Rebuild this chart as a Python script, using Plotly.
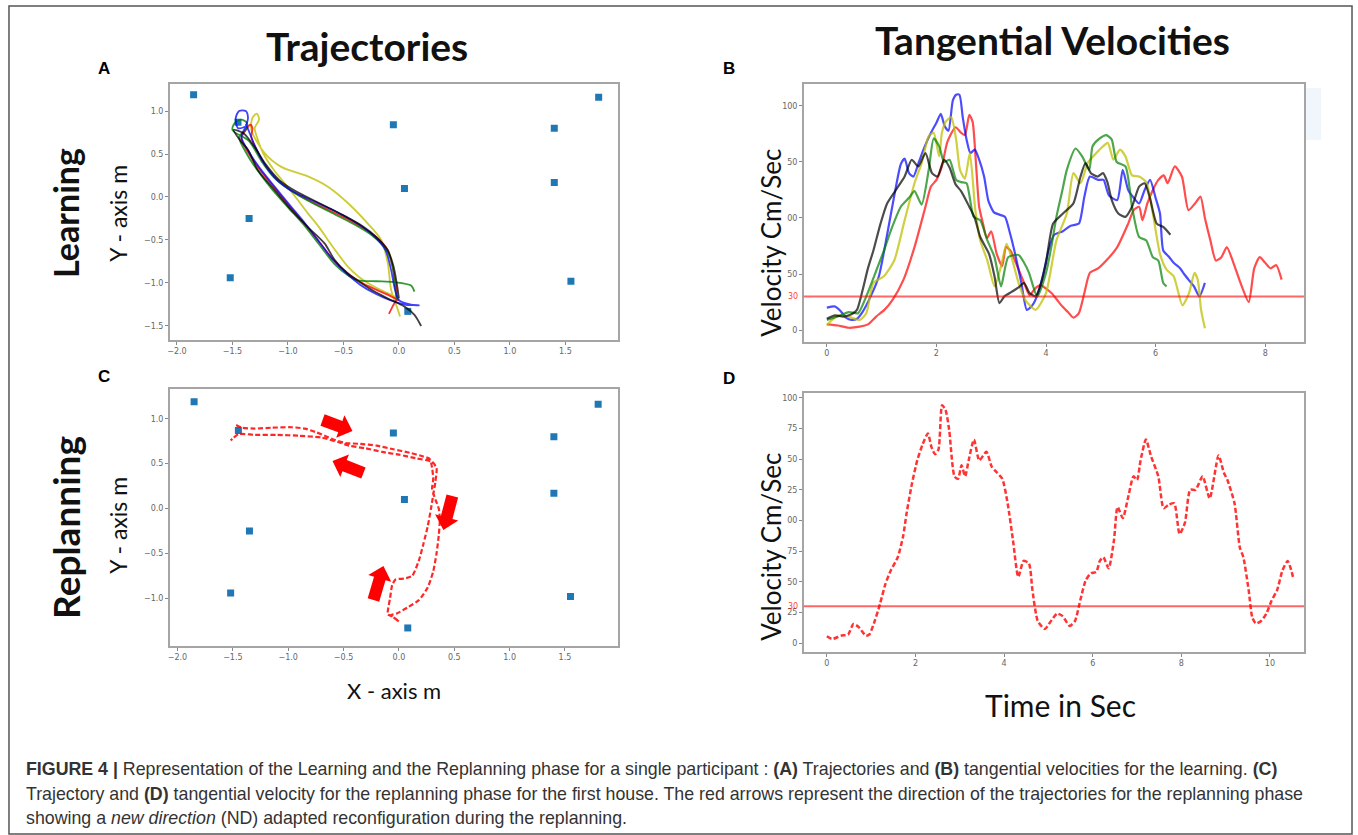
import math
import plotly.graph_objects as go

W, H = 1358, 835

# ---------------- DATA ----------------
# Houses (blue squares) in panels A and C
house_x = [-1.85, -1.45, -0.05, 0.05, -1.35, -1.52, 1.40, 1.40, 1.80, 1.55, 0.08]
house_y = [1.19, 0.87, 0.84, 0.10, -0.25, -0.94, 0.80, 0.17, 1.16, -0.98, -1.33]

# Panel A: learning trajectories
trajA_red_x = [-0.09, -0.06, -0.02, -0.03, -0.06, -0.10, -0.20, -0.35, -0.52, -0.72, -0.90, -1.05, -1.18, -1.27, -1.33, -1.32, -1.34, -1.38, -1.42, -1.36, -1.26, -1.13, -0.99, -0.86, -0.73, -0.60, -0.47, -0.33, -0.20, -0.08, 0.00]
trajA_red_y = [-1.36, -1.28, -1.18, -1.00, -0.80, -0.62, -0.47, -0.34, -0.22, -0.10, 0.02, 0.15, 0.32, 0.52, 0.70, 0.80, 0.84, 0.78, 0.68, 0.52, 0.33, 0.12, -0.10, -0.30, -0.50, -0.72, -0.88, -1.00, -1.08, -1.15, -1.20]
trajA_blue_x = [-1.38, -1.45, -1.47, -1.44, -1.38, -1.36, -1.38, -1.42, -1.35, -1.25, -1.12, -0.98, -0.85, -0.72, -0.60, -0.48, -0.35, -0.22, -0.08, 0.05, 0.18, 0.10, 0.00, -0.04, -0.07, -0.12, -0.22, -0.36, -0.55, -0.75, -0.95, -1.10, -1.22, -1.30, -1.35, -1.38]
trajA_blue_y = [0.82, 0.80, 0.92, 1.00, 1.00, 0.92, 0.82, 0.70, 0.52, 0.33, 0.12, -0.10, -0.30, -0.52, -0.72, -0.88, -1.02, -1.12, -1.20, -1.25, -1.26, -1.25, -1.20, -1.05, -0.85, -0.62, -0.46, -0.32, -0.18, -0.06, 0.06, 0.20, 0.40, 0.60, 0.76, 0.85]
trajA_green_x = [-0.02, -0.04, -0.06, -0.12, -0.25, -0.40, -0.58, -0.78, -0.97, -1.12, -1.24, -1.35, -1.50, -1.48, -1.42, -1.37, -1.38, -1.44, -1.37, -1.28, -1.15, -1.00, -0.86, -0.72, -0.58, -0.45, -0.37, -0.20, -0.04, 0.11, 0.14]
trajA_green_y = [-1.20, -1.00, -0.78, -0.60, -0.44, -0.32, -0.20, -0.07, 0.07, 0.22, 0.42, 0.65, 0.78, 0.86, 0.90, 0.86, 0.78, 0.70, 0.50, 0.32, 0.10, -0.12, -0.32, -0.55, -0.78, -0.92, -0.97, -0.98, -0.99, -1.03, -1.10]
trajA_yellow_x = [0.01, -0.01, -0.07, -0.10, -0.16, -0.28, -0.46, -0.64, -0.82, -1.06, -1.21, -1.33, -1.32, -1.28, -1.26, -1.30, -1.28, -1.22, -1.13, -1.03, -0.92, -0.82, -0.72, -0.64, -0.55, -0.46, -0.36, -0.28, -0.18, -0.10, -0.03]
trajA_yellow_y = [-1.39, -1.31, -1.08, -0.77, -0.50, -0.31, -0.07, 0.12, 0.24, 0.35, 0.51, 0.78, 0.92, 0.97, 0.90, 0.80, 0.70, 0.50, 0.32, 0.16, -0.02, -0.19, -0.35, -0.50, -0.66, -0.81, -0.93, -1.00, -1.07, -1.12, -1.16]
trajA_black_x = [0.00, -0.02, -0.05, -0.10, -0.20, -0.34, -0.52, -0.72, -0.92, -1.08, -1.20, -1.30, -1.40, -1.49, -1.42, -1.36, -1.27, -1.12, -0.97, -0.82, -0.67, -0.58, -0.46, -0.34, -0.22, -0.10, 0.05, 0.14, 0.20]
trajA_black_y = [-1.18, -1.00, -0.80, -0.62, -0.47, -0.33, -0.20, -0.07, 0.06, 0.20, 0.38, 0.58, 0.74, 0.78, 0.64, 0.55, 0.31, 0.08, -0.15, -0.35, -0.54, -0.73, -0.89, -1.00, -1.10, -1.18, -1.275, -1.37, -1.50]

# Panel B: learning tangential velocities (time s, velocity cm/s)
velB_red_t = [0, 0.2, 0.4, 0.6, 0.75, 0.9, 1.05, 1.2, 1.4, 1.6, 1.8, 1.9, 2.0, 2.1, 2.2, 2.35, 2.45, 2.52, 2.6, 2.66, 2.72, 2.78, 2.85, 2.92, 3.0, 3.1, 3.2, 3.27, 3.35, 3.45, 3.6, 3.7, 3.8, 3.9, 4.0, 4.1, 4.2, 4.3, 4.4, 4.5, 4.6, 4.7, 4.8, 4.95, 5.1, 5.3, 5.5, 5.6, 5.7, 5.76, 5.85, 5.95, 6.05, 6.15, 6.22, 6.35, 6.48, 6.6, 6.72, 6.82, 6.9, 7.0, 7.1, 7.2, 7.3, 7.42, 7.55, 7.7, 7.8, 7.9, 8.0, 8.1, 8.2, 8.3]
velB_red_v = [5, 4, 2, 3, 5, 12, 18, 27, 45, 74, 110, 128, 134, 146, 168, 181, 176, 174, 192, 186, 150, 110, 95, 82, 88, 68, 57, 74, 71, 60, 42, 31, 37, 40, 37, 33, 27, 21, 16, 11, 15, 33, 51, 55, 62, 74, 95, 107, 110, 98, 113, 125, 134, 138, 131, 146, 137, 107, 113, 119, 100, 80, 62, 65, 74, 60, 42, 25, 55, 65, 60, 55, 58, 45]
velB_blue_t = [0, 0.15, 0.25, 0.35, 0.45, 0.55, 0.65, 0.8, 0.95, 1.1, 1.25, 1.35, 1.42, 1.5, 1.58, 1.68, 1.78, 1.9, 2.0, 2.08, 2.15, 2.22, 2.3, 2.36, 2.42, 2.48, 2.55, 2.62, 2.7, 2.78, 2.87, 2.95, 3.05, 3.15, 3.25, 3.35, 3.45, 3.55, 3.65, 3.75, 3.85, 3.95, 4.05, 4.15, 4.3, 4.45, 4.6, 4.7, 4.8, 4.95, 5.05, 5.15, 5.3, 5.4, 5.5, 5.6, 5.7, 5.8, 5.9, 6.0, 6.08, 6.14, 6.25, 6.33, 6.45, 6.52, 6.6, 6.7, 6.8, 6.9]
velB_blue_v = [20, 21, 17, 11, 9, 10, 16, 30, 48, 85, 125, 148, 153, 140, 137, 150, 163, 176, 185, 193, 182, 178, 205, 210, 210, 190, 170, 158, 161, 152, 137, 115, 105, 103, 101, 85, 65, 42, 18, 22, 32, 50, 72, 85, 88, 93, 95, 119, 137, 134, 134, 120, 116, 143, 125, 118, 113, 125, 134, 118, 104, 71, 65, 60, 55, 50, 45, 39, 30, 42]
velB_black_t = [0, 0.15, 0.3, 0.45, 0.55, 0.65, 0.75, 0.85, 0.98, 1.1, 1.26, 1.42, 1.55, 1.67, 1.8, 1.92, 2.02, 2.14, 2.24, 2.35, 2.45, 2.6, 2.7, 2.8, 2.96, 3.06, 3.15, 3.24, 3.37, 3.5, 3.6, 3.7, 3.81, 3.9, 4.0, 4.13, 4.31, 4.5, 4.63, 4.72, 4.82, 4.94, 5.04, 5.12, 5.2, 5.32, 5.45, 5.57, 5.7, 5.8, 5.89, 6.02, 6.14, 6.27]
velB_black_v = [10, 13, 12, 14, 18, 35, 55, 71, 95, 113, 125, 137, 152, 146, 158, 140, 137, 152, 145, 130, 124, 110, 100, 83, 68, 48, 24, 30, 34, 38, 42, 33, 30, 40, 60, 95, 104, 113, 137, 149, 140, 137, 140, 132, 116, 104, 101, 110, 128, 131, 119, 95, 92, 85]
velB_green_t = [0, 0.2, 0.4, 0.57, 0.72, 0.91, 1.05, 1.17, 1.35, 1.5, 1.6, 1.73, 1.86, 1.95, 2.05, 2.14, 2.24, 2.36, 2.45, 2.55, 2.68, 2.8, 2.93, 3.06, 3.18, 3.31, 3.5, 3.6, 3.69, 3.84, 4.0, 4.1, 4.19, 4.3, 4.38, 4.54, 4.66, 4.79, 4.85, 4.98, 5.1, 5.2, 5.29, 5.45, 5.57, 5.7, 5.83, 5.95, 6.05, 6.14, 6.2]
velB_green_v = [9, 12, 16, 15, 30, 54, 72, 89, 110, 118, 124, 112, 143, 171, 164, 150, 152, 134, 132, 131, 101, 98, 80, 65, 39, 65, 67, 60, 51, 30, 51, 75, 101, 125, 143, 162, 155, 143, 164, 171, 174, 170, 150, 146, 110, 83, 80, 65, 62, 42, 39]
velB_yellow_t = [0, 0.2, 0.4, 0.6, 0.72, 0.85, 1.04, 1.23, 1.42, 1.6, 1.73, 1.86, 1.95, 2.05, 2.1, 2.17, 2.27, 2.36, 2.43, 2.52, 2.61, 2.71, 2.8, 2.93, 3.06, 3.18, 3.28, 3.37, 3.5, 3.62, 3.81, 4.0, 4.19, 4.38, 4.5, 4.63, 4.76, 4.88, 5.04, 5.13, 5.23, 5.35, 5.45, 5.57, 5.7, 5.83, 5.95, 6.08, 6.2, 6.33, 6.49, 6.61, 6.71, 6.77, 6.83, 6.9]
velB_yellow_v = [4.5, 13, 12, 9, 15, 42, 48, 62, 98, 131, 149, 173, 176, 155, 176, 186, 190, 170, 143, 135, 158, 107, 80, 62, 39, 57, 77, 65, 42, 27, 18, 33, 80, 104, 140, 131, 149, 156, 164, 167, 152, 161, 155, 138, 137, 132, 104, 68, 54, 48, 22, 33, 51, 45, 18, 1.5]

# Panel C: replanning trajectory
trajC_x = [-1.47, -1.42, -1.30, -1.15, -0.97, -0.85, -0.75, -0.65, -0.57, -0.48, -0.35, -0.20, -0.05, 0.10, 0.22, 0.28, 0.30, 0.31, 0.30, 0.33, 0.36, 0.37, 0.36, 0.34, 0.31, 0.26, 0.18, 0.08, -0.02, -0.08, -0.04, 0.00, -0.06, -0.10, -0.08, -0.06, -0.03, 0.05, 0.12, 0.18, 0.22, 0.26, 0.29, 0.31, 0.33, 0.34, 0.30, 0.15, 0.00, -0.15, -0.30, -0.45, -0.55, -0.70, -0.90, -1.10, -1.30, -1.45, -1.50, -1.52]
trajC_y = [0.93, 0.90, 0.89, 0.90, 0.905, 0.89, 0.85, 0.80, 0.76, 0.73, 0.72, 0.70, 0.66, 0.62, 0.58, 0.55, 0.45, 0.33, 0.22, 0.10, 0.00, -0.12, -0.30, -0.50, -0.70, -0.88, -1.02, -1.10, -1.17, -1.19, -1.22, -1.26, -1.20, -1.18, -1.00, -0.85, -0.79, -0.78, -0.75, -0.58, -0.40, -0.20, 0.00, 0.15, 0.30, 0.45, 0.52, 0.56, 0.60, 0.63, 0.67, 0.70, 0.74, 0.79, 0.81, 0.82, 0.82, 0.83, 0.78, 0.76]

# Panel D: replanning tangential velocity
velD_t = [0, 0.12, 0.32, 0.48, 0.6, 0.72, 0.88, 0.96, 1.08, 1.2, 1.32, 1.44, 1.6, 1.72, 1.8, 1.92, 2.04, 2.16, 2.28, 2.36, 2.44, 2.52, 2.6, 2.68, 2.76, 2.88, 2.96, 3.04, 3.12, 3.2, 3.32, 3.44, 3.6, 3.72, 3.84, 3.96, 4.08, 4.2, 4.32, 4.44, 4.56, 4.64, 4.76, 4.92, 5.04, 5.2, 5.32, 5.48, 5.6, 5.72, 5.84, 5.96, 6.08, 6.16, 6.24, 6.36, 6.48, 6.56, 6.68, 6.8, 6.92, 7.0, 7.08, 7.2, 7.32, 7.48, 7.6, 7.72, 7.84, 7.96, 8.08, 8.2, 8.32, 8.48, 8.64, 8.84, 8.96, 9.04, 9.2, 9.32, 9.4, 9.52, 9.6, 9.68, 9.8, 9.92, 10.04, 10.16, 10.28, 10.4, 10.52]
velD_v = [5.5, 3.3, 6, 7, 15.6, 13, 6, 7, 18, 32, 48, 59, 70, 87, 106, 130, 149, 162, 171, 160, 154, 158, 194, 190, 174, 136, 134, 145, 136, 149, 166, 149, 156, 144, 139, 134, 114, 84, 54, 67, 65, 43, 18, 11.5, 17, 24, 22, 14, 18, 35, 51, 57, 58, 67, 70, 61, 84, 111, 102, 119, 136, 133, 149, 166, 152, 136, 110, 113, 114, 89, 98, 125, 125, 136, 118, 153, 139, 133, 114, 78, 70, 43, 21, 16, 18, 24, 35, 43, 59, 67, 54]

threshold = 30

# tick definitions
traj_xticks = [-2.0, -1.5, -1.0, -0.5, 0.0, 0.5, 1.0, 1.5]
trajA_yticks = [-1.5, -1.0, -0.5, 0.0, 0.5, 1.0]
trajC_yticks = [-1.0, -0.5, 0.0, 0.5, 1.0]
velB_xticks = [0, 2, 4, 6, 8]
velB_yticks = [0, 50, 100, 150, 200]
velB_yticktext = ["0", "50", "00", "50", "100"]
velD_xticks = [0, 2, 4, 6, 8, 10]
velD_yticks = [0, 25, 50, 75, 100, 125, 150, 175, 200]
velD_yticktext = ["0", "25", "50", "75", "00", "25", "50", "75", "100"]

# ---------------- FIGURE ----------------
def fx(px):
    return px / W

def fy(py):
    return 1 - py / H

fig = go.Figure()

house_marker = dict(symbol="square", size=7, color="#1f77b4")
fig.add_trace(go.Scatter(x=house_x, y=house_y, mode="markers", marker=house_marker, xaxis="x", yaxis="y"))
fig.add_trace(go.Scatter(x=house_x, y=house_y, mode="markers", marker=house_marker, xaxis="x3", yaxis="y3"))

trajA = [
    (trajA_yellow_x, trajA_yellow_y, "rgba(191,191,0,0.8)"),
    (trajA_red_x, trajA_red_y, "rgba(255,0,0,0.8)"),
    (trajA_green_x, trajA_green_y, "rgba(0,128,0,0.8)"),
    (trajA_blue_x, trajA_blue_y, "rgba(0,0,255,0.75)"),
    (trajA_black_x, trajA_black_y, "rgba(0,0,0,0.75)"),
]
for xs, ys, c in trajA:
    fig.add_trace(go.Scatter(x=xs, y=ys, mode="lines", line=dict(color=c, width=1.8, shape="spline", smoothing=0.8),
                             xaxis="x", yaxis="y"))

velB = [
    (velB_red_t, velB_red_v, "rgba(255,0,0,0.7)"),
    (velB_blue_t, velB_blue_v, "rgba(0,0,255,0.7)"),
    (velB_yellow_t, velB_yellow_v, "rgba(191,191,0,0.75)"),
    (velB_green_t, velB_green_v, "rgba(0,128,0,0.7)"),
    (velB_black_t, velB_black_v, "rgba(0,0,0,0.7)"),
]
for xs, ys, c in velB:
    fig.add_trace(go.Scatter(x=xs, y=ys, mode="lines", line=dict(color=c, width=2.2, shape="spline", smoothing=0.6),
                             xaxis="x2", yaxis="y2"))

fig.add_trace(go.Scatter(x=trajC_x, y=trajC_y, mode="lines",
                         line=dict(color="rgba(255,0,0,0.85)", width=2.2, dash="5px,2.5px", shape="spline", smoothing=0.6),
                         xaxis="x3", yaxis="y3"))
fig.add_trace(go.Scatter(x=velD_t, y=velD_v, mode="lines",
                         line=dict(color="rgba(255,0,0,0.8)", width=2.5, dash="5px,2.5px", shape="spline", smoothing=0.6),
                         xaxis="x4", yaxis="y4"))

# threshold lines
for xr, yr in [("x2", "y2"), ("x4", "y4")]:
    fig.add_shape(type="line", xref=xr + " domain", yref=yr, x0=0, x1=1, y0=threshold, y1=threshold,
                  line=dict(color="rgba(255,0,0,0.6)", width=2))

axis_common = dict(showgrid=False, zeroline=False, showline=True, mirror=True, linecolor="#a5a5a5", linewidth=1.5,
                   ticks="outside", ticklen=3, tickwidth=1, tickcolor="#888",
                   tickfont=dict(size=8, color="#666", family="DejaVu Sans"), fixedrange=True)

# panel frames in pixels
A_box = (168, 617, 84, 340)
C_box = (168, 617, 389, 646)
B_box = (803, 1304, 84, 342)
D_box = (803, 1304, 393, 652)

def dom(box):
    x0, x1, y0, y1 = box
    return [fx(x0), fx(x1)], [fy(y1), fy(y0)]

ax_dom, ay_dom = dom(A_box)
cx_dom, cy_dom = dom(C_box)
bx_dom, by_dom = dom(B_box)
dx_dom, dy_dom = dom(D_box)

fig.update_layout(
    xaxis=dict(axis_common, domain=ax_dom, range=[-2.065, 1.975], tickvals=traj_xticks, tickformat=".1f", anchor="y"),
    yaxis=dict(axis_common, domain=ay_dom, range=[-1.663, 1.314], tickvals=trajA_yticks, tickformat=".1f", anchor="x"),
    xaxis2=dict(axis_common, domain=bx_dom, range=[-0.42, 8.71], tickvals=velB_xticks, anchor="y2"),
    yaxis2=dict(axis_common, domain=by_dom, range=[-10.7, 219.6], tickvals=velB_yticks, ticktext=velB_yticktext, anchor="x2"),
    xaxis3=dict(axis_common, domain=cx_dom, range=[-2.07, 1.98], tickvals=traj_xticks, tickformat=".1f", anchor="y3"),
    yaxis3=dict(axis_common, domain=cy_dom, range=[-1.531, 1.331], tickvals=trajC_yticks, tickformat=".1f", anchor="x3"),
    xaxis4=dict(axis_common, domain=dx_dom, range=[-0.52, 10.77], tickvals=velD_xticks, anchor="y4"),
    yaxis4=dict(axis_common, domain=dy_dom, range=[-7.3, 204], tickvals=velD_yticks, ticktext=velD_yticktext, anchor="x4"),
    width=W, height=H, margin=dict(l=0, r=0, t=0, b=0),
    paper_bgcolor="white", plot_bgcolor="white", showlegend=False,
)

annotations = []

def txt(text, x, y, size, family="Lato", color="#111", angle=0, xanchor="center", yanchor="middle", **kw):
    annotations.append(dict(text=text, x=fx(x), y=fy(y), xref="paper", yref="paper", showarrow=False,
                            font=dict(size=size, family=family, color=color), textangle=angle,
                            xanchor=xanchor, yanchor=yanchor, **kw))

txt("<b>Trajectories</b>", 366, 46, 39)
txt("<b>Tangential Velocities</b>", 1052, 40, 39)
txt("<b>A</b>", 102, 69, 17, family="Liberation Sans", color="#000")
txt("<b>B</b>", 728, 69, 17, family="Liberation Sans", color="#000")
txt("<b>C</b>", 102, 376, 17, family="Liberation Sans", color="#000")
txt("<b>D</b>", 728, 378, 17, family="Liberation Sans", color="#000")
txt("<b>Learning</b>", 63, 213, 34, angle=-90)
txt("<b>Replanning</b>", 63, 527, 37, angle=-90)
txt("Y - axis m", 116, 213, 23, angle=-90)
txt("Y - axis m", 116, 525, 23, angle=-90)
txt("X - axis m", 393, 690, 22)
txt("Velocity Cm/Sec", 770, 243, 26, angle=-90)
txt("Velocity Cm/Sec", 770, 547, 26, angle=-90)
txt("Time in Sec", 1060, 705, 30)

# red "30" threshold tick labels
for yref, xpix in [("y2", 799), ("y4", 799)]:
    annotations.append(dict(text=str(threshold), x=fx(xpix), y=threshold, xref="paper", yref=yref, showarrow=False,
                            font=dict(size=8, family="DejaVu Sans", color="rgba(255,0,0,0.8)"),
                            xanchor="right", yanchor="middle"))

cap_font = "Liberation Sans"
cap1 = ("<b>FIGURE 4 |</b> Representation of the Learning and the Replanning phase for a single participant : "
        "<b>(A)</b> Trajectories and <b>(B)</b> tangential velocities for the learning. <b>(C)</b>")
cap2 = ("Trajectory and <b>(D)</b> tangential velocity for the replanning phase for the first house. "
        "The red arrows represent the direction of the trajectories for the replanning phase")
cap3 = "showing a <i>new direction</i> (ND) adapted reconfiguration during the replanning."
txt(cap1, 22, 769, 17.8, family=cap_font, color="#333", xanchor="left")
txt(cap2, 22, 794, 17.8, family=cap_font, color="#333", xanchor="left")
txt(cap3, 22, 818, 17.8, family=cap_font, color="#333", xanchor="left")

fig.update_layout(annotations=annotations)

shapes = []
# outer frame
shapes.append(dict(type="rect", xref="paper", yref="paper", x0=fx(7), x1=fx(1352), y0=fy(834), y1=fy(6),
                   line=dict(color="#555", width=1.5), fillcolor="rgba(0,0,0,0)"))
# faint light strip at the right of panel B
shapes.append(dict(type="rect", xref="paper", yref="paper", x0=fx(1306), x1=fx(1321), y0=fy(140), y1=fy(88),
                   line=dict(width=0), fillcolor="rgba(225,238,250,0.5)"))

# block arrows in panel C (tail, tip in pixels)
def block_arrow(tail, tip, shaft=12, head=24, head_len=13):
    tx, ty = tail
    px, py = tip
    L = math.hypot(px - tx, py - ty)
    ux, uy = (px - tx) / L, (py - ty) / L
    nx, ny = -uy, ux
    bx, by = tx + ux * (L - head_len), ty + uy * (L - head_len)
    pts = [
        (tx + nx * shaft / 2, ty + ny * shaft / 2),
        (bx + nx * shaft / 2, by + ny * shaft / 2),
        (bx + nx * head / 2, by + ny * head / 2),
        (px, py),
        (bx - nx * head / 2, by - ny * head / 2),
        (bx - nx * shaft / 2, by - ny * shaft / 2),
        (tx - nx * shaft / 2, ty - ny * shaft / 2),
    ]
    path = "M " + " L ".join(f"{fx(a):.5f},{fy(b):.5f}" for a, b in pts) + " Z"
    return dict(type="path", xref="paper", yref="paper", path=path, fillcolor="#ff0000", line=dict(width=0))

for tail, tip in [((321, 420), (351, 431)), ((362, 473), (331, 461)), ((451, 496), (442, 530)), ((372, 600), (382, 566))]:
    shapes.append(block_arrow(tail, tip))

fig.update_layout(shapes=list(fig.layout.shapes) + shapes)

fig.write_html("out.html", config={"displayModeBar": False},
               post_script="document.body.style.margin='0';document.body.style.overflow='hidden';")
